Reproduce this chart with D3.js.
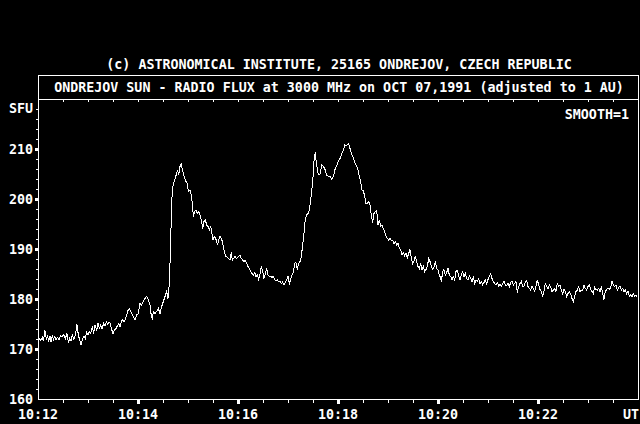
<!DOCTYPE html>
<html><head><meta charset="utf-8">
<script src="https://cdn.jsdelivr.net/npm/d3@7"></script>
<style>html,body{margin:0;padding:0;background:#000;}svg{display:block;}</style>
</head><body>
<svg id="chart" width="640" height="424"></svg>
<script>
// time offset in seconds after 10:12:00 UT
const seconds = [
1.2,3.2,5.2,6.4,8.4,10.0,11.6,12.8,14.4,15.6,17.2,18.4,20.0,21.6,23.2,25.2,27.2,29.2,30.8,32.8,
34.8,36.4,38.0,39.6,41.2,43.2,45.2,46.8,48.4,50.0,51.6,53.2,55.2,56.8,58.4,60.0,61.6,63.2,65.2,66.8,
68.4,70.4,72.0,73.6,75.2,76.8,78.8,80.4,82.0,83.6,85.2,86.8,88.4,90.0,91.6,93.6,95.2,96.8,98.4,100.0,
101.6,103.2,104.8,106.4,108.0,109.6,
112.4,114.4,116.4,118.4,120.4,122.4,124.4,126.4,128.4,130.4,132.4,134.4,135.6,137.2,138.4,140.4,142.4,144.4,146.4,148.4,
150.4,152.4,154.4,156.0,157.6,158.8,160.0,161.2,162.8,164.0,165.2,166.4,167.6,168.8,170.4,172.0,173.2,174.4,176.0,177.6,
179.2,180.4,182.4,184.0,185.2,186.4,188.0,189.6,191.2,192.8,194.4,196.0,197.6,199.2,200.8,202.4,204.0,205.6,207.2,208.8,
210.0,211.6,213.2,214.4,215.6,216.8,218.4,220.0,221.2,222.4,224.0,225.6,227.2,228.8,230.4,232.0,233.2,234.8,236.4,238.4,240.4,
242.4,244.0,245.6,247.2,248.8,250.4,252.0,253.6,255.2,256.8,258.4,260.0,261.6,263.2,264.8,266.4,268.0,269.6,271.2,272.8,
274.4,276.0,277.6,279.2,280.8,282.4,284.0,285.6,287.2,288.8,290.4,292.0,293.6,295.2,296.8,298.4,300.0,301.6,303.2,304.8,
306.4,308.0,309.6,311.2,312.8,314.4,316.0,317.6,319.2,320.8,322.4,324.0,325.6,327.2,328.8,330.4,331.6,332.8,334.0,
336.4,338.4,340.4,342.4,344.4,346.4,348.4,350.4,352.4,354.4,356.4,358.4,360.4,362.4,364.4,366.4,368.0,369.6,371.2,372.8,
374.4,376.0,377.6,379.2,380.8,382.4,384.0,385.6,387.2,388.8,390.4,392.0,393.6,395.2,396.8,398.4,400.0,401.6,403.2,404.8,
406.4,408.0,409.6,411.2,412.8,414.4,416.0,417.6,419.2,420.8,422.4,424.0,425.6,427.2,428.8,430.4,432.0,433.6,435.2,436.8,
438.4,440.0,441.6,443.2,444.8,446.4,448.0,449.6,451.2,452.8,454.4,456.0,457.6,459.2,460.8,462.4,464.0,465.6,467.2,468.8,
470.4,472.0,473.6,475.2,476.8,478.4,480.0,481.6,
482.4,484.0,485.6,487.2,488.8,490.4,492.0,493.6,495.2,496.8,498.4,500.0,501.6,503.2,504.8,506.4,508.0,509.6,511.2,512.8,
514.4,516.0,517.6,519.2,520.8,522.4,524.0,525.6,527.2,528.8,530.4,532.0,533.6,535.2,536.8,538.4,540.0,541.6,543.2,544.8,
546.4,548.0,549.6,551.2,552.8,554.4,556.0,557.6,559.2,560.8,562.4,564.0,565.6,567.2,568.8,570.4,572.0,573.6,575.2,576.8,
578.4,580.0,581.6,583.2,584.8,586.4,588.0,589.6,591.2,592.8,594.4,596.0,597.6,599.2,600.8,602.4,604.0,605.6,607.2,608.8,
610.4,612.0,613.6,615.2,616.8,618.4,620.0,621.6,623.2,624.8,626.4,628.0,629.6,631.2,632.8,634.4,636.0,637.6,639.2,640.8,
642.4,644.0,645.6,647.2,648.8,650.4,652.0,653.6,655.2,656.8,658.4,660.0,661.6,663.2,664.8,666.4,668.0,669.6,671.2,672.8,
674.4,676.0,677.6,679.2,680.8,682.4,684.0,685.6,687.2,688.8,690.4,692.0,693.6,695.2,696.8,698.4,700.0,701.6,703.2,704.8,
706.4,708.0,709.6,711.2,712.8,714.4,716.0,717.6,719.2
];
// radio flux, SFU
const flux = [
172.1,171.8,172.3,171.6,173.7,171.9,172.6,171.5,172.5,171.4,172.8,171.8,172.5,171.8,172.3,171.9,172.6,172.5,172.9,172.1,
173.1,171.3,172.1,171.6,172.8,171.9,173.1,174.9,172.8,171.8,170.9,171.9,172.5,172.1,173.3,172.8,173.5,173.1,174.5,173.1,
174.8,173.7,175.1,174.1,174.8,174.1,175.1,174.6,175.5,174.9,175.3,175.1,173.9,173.1,173.8,174.1,174.6,175.1,174.5,175.5,
175.9,175.5,175.9,176.8,177.7,178.1,
177.1,176.5,175.9,176.8,177.1,179.1,178.8,179.5,180.1,180.5,179.8,178.8,177.1,175.8,177.5,177.1,177.5,178.1,177.1,178.5,
179.5,180.5,181.5,180.1,183.1,189.1,196.5,202.1,203.1,203.8,204.5,205.1,205.8,204.8,206.5,207.0,205.8,205.1,204.1,203.5,
203.1,201.5,201.8,200.8,199.1,196.5,197.5,197.8,197.1,197.5,196.8,195.8,194.1,195.5,195.8,194.8,194.5,193.8,194.5,193.1,
191.8,192.5,192.1,191.5,190.8,191.8,192.5,192.1,191.5,190.5,189.1,188.5,188.3,188.1,187.8,189.3,187.8,188.1,188.5,188.1,188.5,
188.8,188.1,187.8,187.5,187.7,187.1,186.5,186.1,185.5,185.1,184.8,185.3,184.5,184.8,183.9,185.0,186.5,185.5,184.1,185.0,
186.1,184.8,184.5,184.6,184.3,184.5,183.9,183.7,183.8,183.5,183.6,183.1,183.4,182.8,183.3,183.9,184.5,183.1,183.9,184.8,
185.3,187.1,187.3,185.9,187.1,187.5,188.5,190.8,193.1,196.1,196.8,197.1,197.8,199.8,202.1,205.1,208.8,209.1,207.1,
204.8,204.9,206.8,206.6,205.9,204.8,204.5,204.6,203.9,204.5,205.9,206.6,207.5,208.1,209.0,209.7,210.8,210.6,210.8,211.0,
210.1,209.1,208.5,207.8,207.1,206.6,205.8,204.5,203.5,201.8,201.7,200.5,199.0,199.1,199.5,198.8,196.8,195.3,197.1,197.5,
197.7,194.8,195.8,194.5,194.8,194.1,193.5,192.6,192.1,191.8,192.1,191.7,191.8,191.1,191.5,190.8,191.1,190.1,189.8,188.8,
189.3,188.6,189.1,188.3,189.1,189.9,188.1,187.1,187.5,188.6,187.5,186.5,186.1,187.0,185.9,186.6,185.5,185.9,186.5,188.1,
187.5,186.5,185.9,186.3,187.5,186.1,185.8,184.8,
184.5,183.5,185.5,185.9,184.8,185.3,186.1,184.8,184.5,183.9,184.5,183.8,185.5,185.7,184.6,183.8,184.8,185.5,184.5,185.1,
184.1,183.8,184.6,184.1,183.5,184.5,183.1,183.8,183.5,184.1,183.1,183.5,182.8,183.3,183.8,183.1,183.9,184.5,185.1,184.1,
183.5,183.1,182.8,183.3,182.6,183.0,182.5,183.0,183.5,182.8,182.6,183.1,182.5,183.3,183.5,182.8,183.1,183.5,181.3,182.5,
183.1,183.5,182.5,182.6,183.5,183.7,182.5,182.1,181.8,182.5,182.1,181.5,182.5,183.8,182.8,181.9,181.5,180.6,181.5,183.1,
182.5,182.1,182.8,182.5,181.5,181.7,182.1,181.5,183.1,182.5,182.8,181.8,181.1,181.9,181.5,180.5,181.1,181.5,181.0,180.1,
179.5,180.5,181.5,181.8,182.5,181.5,181.8,181.8,182.8,182.1,181.8,182.5,182.8,181.9,181.5,181.1,182.3,181.9,181.8,182.1,
181.5,182.5,181.1,179.9,181.5,181.9,182.1,181.9,182.3,183.5,182.8,182.5,182.8,181.8,182.3,182.5,181.8,182.1,181.5,181.8,
181.0,181.5,180.5,180.8,180.5,181.0,180.5,180.8,180.3
];
const yTickValues = [160,170,180,190,200,210];
const yMinorValues = d3.range(162, 220, 2).filter(v => v % 10 !== 0);
const xLabelSeconds = [0,120,240,360,480,600];
const xLabels = ["10:12","10:14","10:16","10:18","10:20","10:22"];
const xMinorSeconds = d3.range(30, 720, 30).filter(s => s % 120 !== 0);
const titleText = "(c) ASTRONOMICAL INSTITUTE, 25165 ONDREJOV, CZECH REPUBLIC";
const subtitleText = "ONDREJOV SUN - RADIO FLUX at 3000 MHz on OCT 07,1991 (adjusted to 1 AU)";
const unitText = "SFU";
const timeUnitText = "UT";
const smoothText = "SMOOTH=1";

const svg = d3.select("#chart");
const FONT = "'DejaVu Sans Mono', 'Liberation Mono', monospace";
svg.append("rect").attr("width",640).attr("height",424).attr("fill","#000");

const x = d3.scaleLinear().domain([0,720]).range([38,638]);
const y = d3.scaleLinear().domain([160,220]).range([399,99]);

const g = svg.append("g").attr("shape-rendering","crispEdges");

// title box and plot frame
g.append("rect").attr("x",38.5).attr("y",75.5).attr("width",600).attr("height",24)
  .attr("fill","none").attr("stroke","#fff");
g.append("rect").attr("x",38.5).attr("y",99.5).attr("width",600).attr("height",300)
  .attr("fill","none").attr("stroke","#fff");

// top inner ticks
g.selectAll(".tt").data(d3.range(30,720,30)).join("line")
  .attr("x1",d=>Math.round(x(d))+0.5).attr("x2",d=>Math.round(x(d))+0.5)
  .attr("y1",100).attr("y2",102).attr("stroke","#fff");

// bottom minor ticks
g.selectAll(".bt").data(xMinorSeconds).join("line")
  .attr("x1",d=>Math.round(x(d))+0.5).attr("x2",d=>Math.round(x(d))+0.5)
  .attr("y1",400).attr("y2",403).attr("stroke","#fff");
// bottom major ticks
g.selectAll(".bm").data(xLabelSeconds.filter(s=>s>0)).join("rect")
  .attr("x",d=>Math.round(x(d))-1).attr("y",400).attr("width",3).attr("height",4).attr("fill","#fff");

// left minor ticks
g.selectAll(".lt").data(yMinorValues).join("line")
  .attr("x1",36).attr("x2",38).attr("y1",d=>Math.round(y(d))+0.5).attr("y2",d=>Math.round(y(d))+0.5)
  .attr("stroke","#fff");
// left major ticks
g.selectAll(".lm").data(yTickValues.filter(v=>v>160)).join("rect")
  .attr("x",35).attr("y",d=>Math.round(y(d))-1).attr("width",3).attr("height",3).attr("fill","#fff");

// texts
const txt = svg.append("g").attr("font-family",FONT).attr("font-weight","bold")
  .attr("font-size","13.33px").attr("fill","#fff");
txt.append("text").attr("x",339).attr("y",69).attr("text-anchor","middle").text(titleText);
txt.append("text").attr("x",339).attr("y",92).attr("text-anchor","middle").text(subtitleText);
txt.append("text").attr("x",33).attr("y",113).attr("text-anchor","end").text(unitText);
txt.append("text").attr("x",629).attr("y",119).attr("text-anchor","end").text(smoothText);
txt.selectAll(".yl").data(yTickValues).join("text")
  .attr("x",33).attr("y",d=>y(d)+5).attr("text-anchor","end").text(d=>d);
txt.selectAll(".xl").data(xLabelSeconds).join("text")
  .attr("x",d=>x(d)).attr("y",419).attr("text-anchor","middle").text((d,i)=>xLabels[i]);
txt.append("text").attr("x",639).attr("y",419).attr("text-anchor","end").text(timeUnitText);

// data line
const pts = seconds.map((s,i)=>[s,flux[i]]);
const line = d3.line().x(d=>x(d[0])).y(d=>y(d[1]));
svg.append("path").datum(pts).attr("d",line).attr("fill","none")
  .attr("stroke","#fff").attr("stroke-width",1).attr("shape-rendering","crispEdges");
</script>
</body></html>
